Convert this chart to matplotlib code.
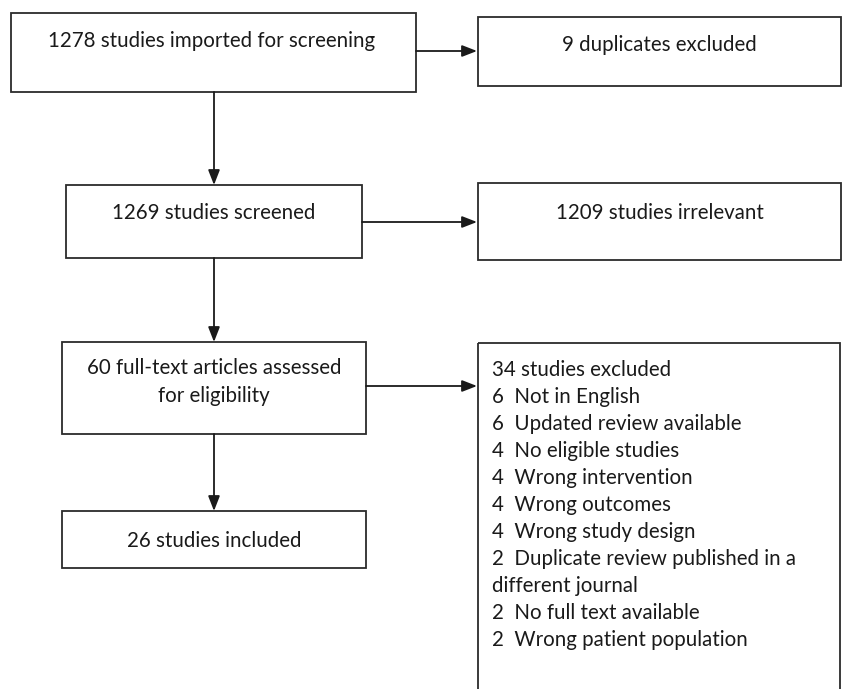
"""PRISMA-style flow diagram of study selection."""
import matplotlib
matplotlib.use("Agg")
import matplotlib.pyplot as plt
from matplotlib.patches import Rectangle

plt.rcParams["font.family"] = ["Lato", "DejaVu Sans"]

# main-column stage labels (top to bottom)
main_labels = [
    "1278 studies imported for screening",
    "1269 studies screened",
    "60 full-text articles assessed\nfor eligibility",
    "26 studies included",
]
# side boxes (exclusions)
side_labels = [
    "9 duplicates excluded",
    "1209 studies irrelevant",
]
excl_total = "34 studies excluded"
excl_counts = [6, 6, 4, 4, 4, 4, 2, 2, 2]
excl_reasons = [
    "Not in English",
    "Updated review available",
    "No eligible studies",
    "Wrong intervention",
    "Wrong outcomes",
    "Wrong study design",
    "Duplicate review published in a\ndifferent journal",
    "No full text available",
    "Wrong patient population",
]

W, H = 842, 689
fig = plt.figure(figsize=(W / 100, H / 100), dpi=100)
ax = fig.add_axes([0, 0, 1, 1])
ax.set_xlim(0, W)
ax.set_ylim(H, 0)
ax.axis("off")

EC = "#2b2b2b"
FS = 14.8

# box geometry in pixel coords: (x0, y0, x1, y1)
main_boxes = [(11, 13, 416, 92), (66, 185, 362, 258), (62, 342, 366, 434), (62, 511, 366, 568)]
main_text_y = [41, 213, 382, 541]
side_boxes = [(478, 17, 841, 86), (478, 183, 841, 260)]
side_text_y = [45, 213]
excl_box = (478, 343, 840, 700)
arrow_y = [51, 222, 386]
col_x = 214


def box(b):
    x0, y0, x1, y1 = b
    ax.add_patch(Rectangle((x0, y0), x1 - x0, y1 - y0, fill=False, ec=EC, lw=1.3))


def arrow(x0, y0, x1, y1):
    ax.annotate("", xy=(x1, y1), xytext=(x0, y0),
                arrowprops=dict(arrowstyle="-|>,head_length=0.9,head_width=0.35",
                                color="#1a1a1a", lw=1.3, shrinkA=0, shrinkB=0))


for b, ty, lab in zip(main_boxes, main_text_y, main_labels):
    box(b)
    cx = (b[0] + b[2]) / 2 if lab != main_labels[0] else 212
    ax.text(cx, ty, lab, ha="center", va="center", fontsize=FS, color="#1a1a1a",
            linespacing=1.55)

for b, ty, lab in zip(side_boxes, side_text_y, side_labels):
    box(b)
    ax.text((b[0] + b[2]) / 2, ty, lab, ha="center", va="center", fontsize=FS, color="#1a1a1a")

box(excl_box)
lines = [excl_total] + [f"{n}  {r}" for n, r in zip(excl_counts, excl_reasons)]
ax.text(492, 360, "\n".join(lines), ha="left", va="top", fontsize=FS, color="#1a1a1a",
        linespacing=1.435)

# horizontal arrows to the exclusion boxes
starts = [416, 362, 366]
for sx, y in zip(starts, arrow_y):
    arrow(sx, y, 477, y)

# vertical arrows down the main column
for upper, lower in zip(main_boxes[:-1], main_boxes[1:]):
    arrow(col_x, upper[3], col_x, lower[1])

fig.savefig("out.png", dpi=100)
